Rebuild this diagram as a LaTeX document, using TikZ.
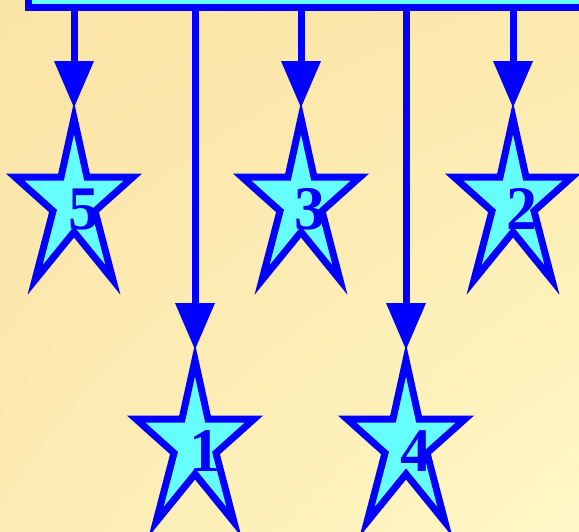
\documentclass[tikz,border=0pt]{standalone}
\usepackage{fontspec}
\setmainfont{Liberation Serif}
\usepackage{tikz}
\usetikzlibrary{arrows.meta,shadings}
\usepackage{xcolor}
\definecolor{stblue}{HTML}{0000FF}
\definecolor{stcyan}{HTML}{66FFFF}
\definecolor{bgul}{HTML}{FBE4A7}
\definecolor{bgur}{HTML}{FCE9AD}
\definecolor{bgll}{HTML}{FCEBB2}
\definecolor{bglr}{HTML}{FFF8C6}

\begin{document}
\begin{tikzpicture}[
  x=1pt, y=-1pt,
  starline/.style={draw=stblue, fill=stcyan, line width=7pt, line join=miter},
  link/.style={draw=stblue, line width=7pt, -{Triangle[length=47pt, width=38pt]}},
  num/.style={font=\fontsize{62}{62}\selectfont\bfseries, text=stblue, inner sep=0pt},
  fivestar/.pic={
    \draw[starline] (0,10) -- (13,69) -- (59,69) -- (21,103) -- (39,172) -- (0,124)
      -- (-39,172) -- (-21,103) -- (-59,69) -- (-13,69) -- cycle;
  }
]
  \useasboundingbox (0,0) rectangle (579,531);
  \clip (0,0) rectangle (579,531);

  % Background
  \shade[upper left=bgul, upper right=bgur, lower left=bgll, lower right=bglr]
    (0,0) rectangle (579,531);

  % Top bar
  \draw[starline] (28.5,-20) rectangle (620,7.5);

  % Bar exits
  \coordinate (b5) at (74,7.5);
  \coordinate (b1) at (195,7.5);
  \coordinate (b3) at (301,7.5);
  \coordinate (b4) at (406,7.5);
  \coordinate (b2) at (513,7.5);

  % Star tips
  \coordinate (s5) at (74,108);
  \coordinate (s1) at (195,350);
  \coordinate (s3) at (301,108);
  \coordinate (s4) at (406,350);
  \coordinate (s2) at (513,108);

  % Arrows
  \draw[link] (b5) -- (s5);
  \draw[link] (b1) -- (s1);
  \draw[link] (b3) -- (s3);
  \draw[link] (b4) -- (s4);
  \draw[link] (b2) -- (s2);

  % Stars
  \pic at (s5) {fivestar};
  \pic at (s1) {fivestar};
  \pic at (s3) {fivestar};
  \pic at (s4) {fivestar};
  \pic at (s2) {fivestar};

  % Numbers
  \node[num] (n5) at (84,209) {5};
  \node[num] (n1) at (205,451) {1};
  \node[num] (n3) at (310,209) {3};
  \node[num] (n4) at (416,451) {4};
  \node[num] (n2) at (522,209) {2};
\end{tikzpicture}
\end{document}
